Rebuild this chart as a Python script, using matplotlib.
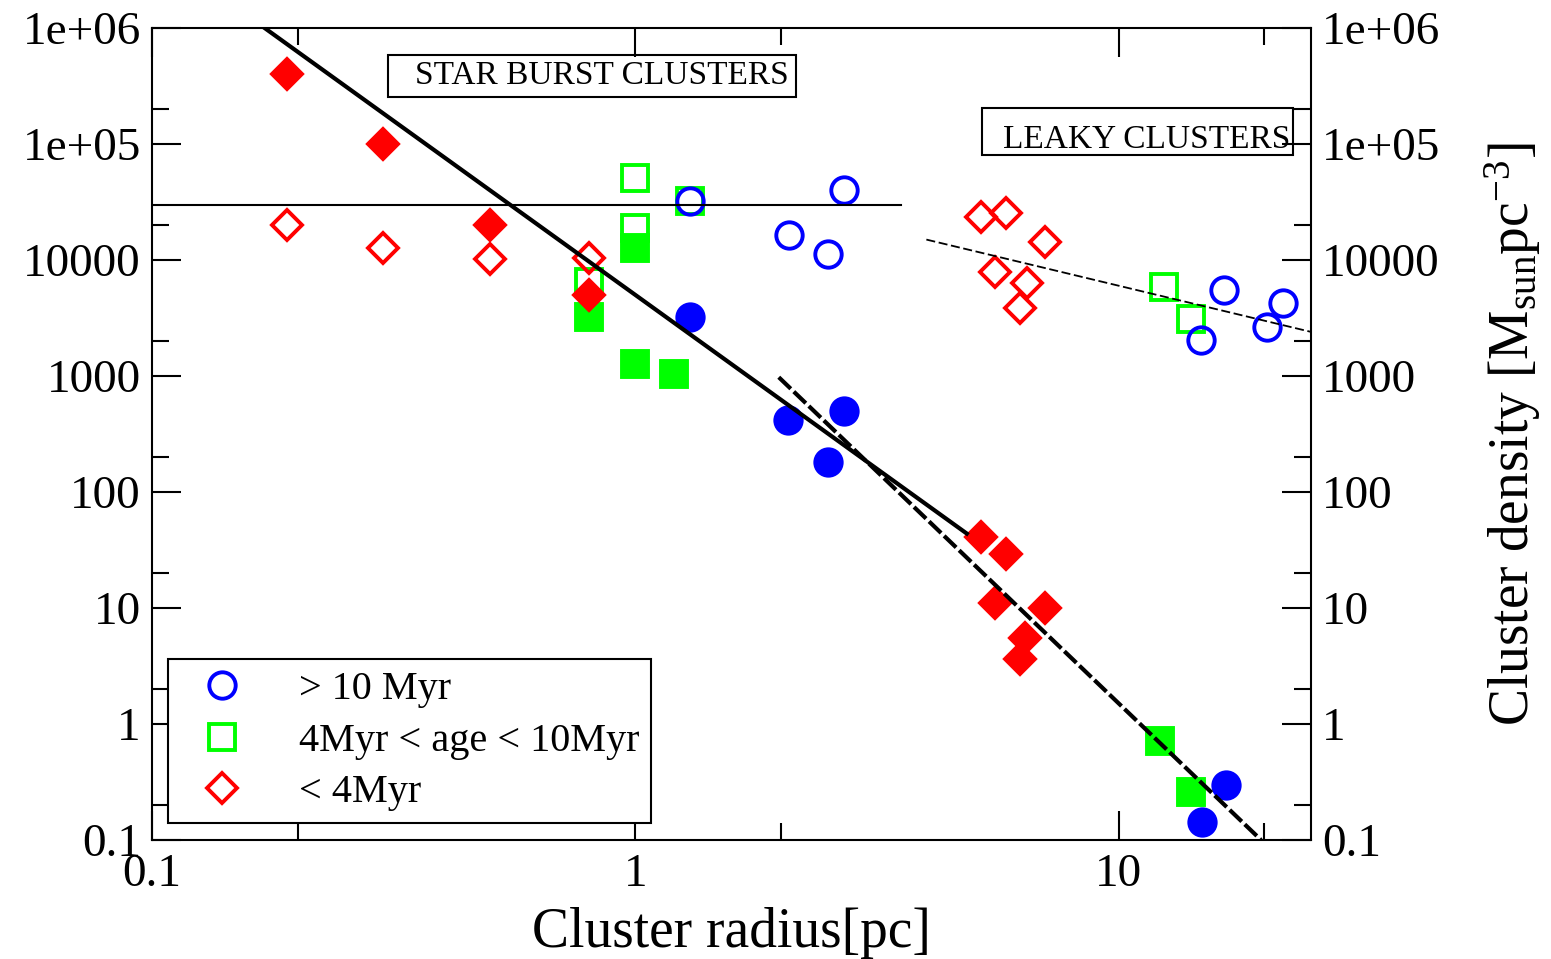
import matplotlib.pyplot as plt
from matplotlib.patches import Rectangle

plt.rcParams['font.family'] = ['Liberation Serif', 'DejaVu Serif']
plt.rcParams['mathtext.fontset'] = 'custom'
plt.rcParams['mathtext.rm'] = 'Liberation Serif'
plt.rcParams['mathtext.it'] = 'Liberation Serif:italic'

# > 10 Myr clusters (open = leaky, filled = star burst)
old_open_r = [1.3, 2.08, 2.5, 2.7, 14.8, 16.5, 20.3, 21.9]
old_open_rho = [3.2e4, 1.65e4, 1.13e4, 4.0e4, 2050, 5500, 2650, 4250]
old_fill_r = [1.3, 2.07, 2.5, 2.7, 14.9, 16.7]
old_fill_rho = [3200, 420, 180, 500, 0.143, 0.30]

# 4 Myr < age < 10 Myr
mid_open_r = [0.8, 1.0, 1.0, 1.3, 12.4, 14.1]
mid_open_rho = [6500, 5.1e4, 1.9e4, 3.2e4, 5850, 3100]
mid_fill_r = [0.8, 1.0, 1.0, 1.2, 12.2, 14.1]
mid_fill_rho = [3200, 1.27e4, 1270, 1040, 0.71, 0.26]

# < 4 Myr
young_open_r = [0.19, 0.3, 0.5, 0.8, 5.2, 5.85, 7.05, 5.55, 6.45, 6.25]
young_open_rho = [2.0e4, 1.27e4, 1.02e4, 1.05e4, 2.35e4, 2.55e4, 1.43e4, 7900, 6300, 3850]
young_fill_r = [0.19, 0.3, 0.5, 0.8, 5.2, 5.85, 5.55, 7.05, 6.4, 6.25]
young_fill_rho = [4.0e5, 1.0e5, 2.0e4, 5000, 41, 29, 11, 10, 5.5, 3.6]

# guide lines (end points)
mass_r = [0.171, 4.85]
mass_rho = [1.0e6, 43.8]
steep_r = [1.98, 19.7]
steep_rho = [976, 0.1]
flat_r = [0.1, 3.55]
flat_rho = [3.0e4, 3.0e4]
leaky_r = [4.0, 25.0]
leaky_rho = [1.5e4, 2400]

y_ticks = [0.1, 1, 10, 100, 1000, 1e4, 1e5, 1e6]
y_labels = ['0.1', '1', '10', '100', '1000', '10000', '1e+05', '1e+06']
x_ticks = [0.1, 1, 10]
x_labels = ['0.1', '1', '10']

fig = plt.figure(figsize=(15.51, 9.59), dpi=100)
ax = fig.add_axes([0.0980, 0.1241, 0.7473, 0.8467])
ax.set_xscale('log')
ax.set_yscale('log')

blue, green, red = '#0000ff', '#00ff00', '#ff0000'
ms_c, ms_d, mew = 19, 15, 2.8

# markers
ax.plot(mid_fill_r, mid_fill_rho, 's', color=green, ms=ms_c, mew=mew, zorder=3)
ax.plot(mid_open_r, mid_open_rho, 's', color=green, mfc='none', ms=ms_c, mew=mew, zorder=3)
ax.plot(old_fill_r, old_fill_rho, 'o', color=blue, ms=ms_c, mew=mew, zorder=3)
ax.plot(old_open_r, old_open_rho, 'o', color=blue, mfc='none', ms=ms_c, mew=mew, zorder=3)
ax.plot(young_fill_r, young_fill_rho, 'D', color=red, ms=ms_d, mew=mew, zorder=3)
ax.plot(young_open_r, young_open_rho, 'D', color=red, mfc='none', ms=ms_d, mew=mew, zorder=3)

# lines
ax.plot(mass_r, mass_rho, '-', color='black', lw=3, zorder=4)
ax.plot(steep_r, steep_rho, color='black', lw=3, dashes=(4, 1), zorder=4)
ax.plot(flat_r, flat_rho, '-', color='black', lw=1.5, zorder=4)
ax.plot(leaky_r, leaky_rho, color='black', lw=1.3, dashes=(5, 2), zorder=4)

ax.set_xlim(0.1, 25)
ax.set_ylim(0.1, 1e6)

# ticks like grace: inward on all sides, minor at 2x
ax.set_xticks(x_ticks)
ax.set_xticklabels(x_labels)
ax.set_yticks(y_ticks)
ax.set_yticklabels(y_labels)
ax.set_xticks([t * 2 for t in x_ticks], minor=True)
ax.set_yticks([t * 2 for t in y_ticks[:-1]], minor=True)
ax.xaxis.set_minor_formatter(plt.NullFormatter())
ax.yaxis.set_minor_formatter(plt.NullFormatter())
ax.tick_params(which='both', direction='in', top=True, right=True, width=1.5)
ax.tick_params(which='major', length=21)
ax.tick_params(which='minor', length=12)
ax.tick_params(axis='y', labelleft=True, labelright=True, labelsize=34, pad=8)
ax.tick_params(axis='x', labelsize=34, pad=10)
for s in ax.spines.values():
    s.set_linewidth(1.5)

ax.set_xlabel('Cluster radius[pc]', fontsize=40, labelpad=8)
ax.yaxis.set_label_position('right')
ax.set_ylabel(r'Cluster density [M$_{\rm sun}$pc$^{-3}$]', fontsize=40, labelpad=30)

# labelled boxes
ax.add_patch(Rectangle((0.2036, 0.915), 0.3521, 0.0517, transform=ax.transAxes,
                       fill=False, lw=1.5, ec='black', zorder=5))
ax.text(0.227, 0.941, 'STAR BURST CLUSTERS', transform=ax.transAxes,
        fontsize=24, va='center', ha='left', zorder=5)
ax.add_patch(Rectangle((0.7161, 0.8436), 0.2684, 0.0579, transform=ax.transAxes,
                       fill=False, lw=1.5, ec='black', zorder=5))
ax.text(0.7343, 0.862, 'LEAKY CLUSTERS', transform=ax.transAxes,
        fontsize=24, va='center', ha='left', zorder=5)

# legend
h1, = ax.plot([], [], 'o', color=blue, mfc='none', ms=ms_c, mew=mew)
h2, = ax.plot([], [], 's', color=green, mfc='none', ms=ms_c, mew=mew)
h3, = ax.plot([], [], 'D', color=red, mfc='none', ms=ms_d, mew=mew)
leg = ax.legend([h1, h2, h3], ['> 10 Myr', '4Myr < age < 10Myr', '< 4Myr'],
                loc='lower left', bbox_to_anchor=(0.0138, 0.0209), borderaxespad=0,
                fontsize=29, fancybox=False, framealpha=1, edgecolor='black',
                handlelength=2.1, handletextpad=0.85, borderpad=0.3, labelspacing=0.35)
leg.get_frame().set_linewidth(1.5)
leg.set_zorder(6)

plt.savefig('out.png', dpi=100)
